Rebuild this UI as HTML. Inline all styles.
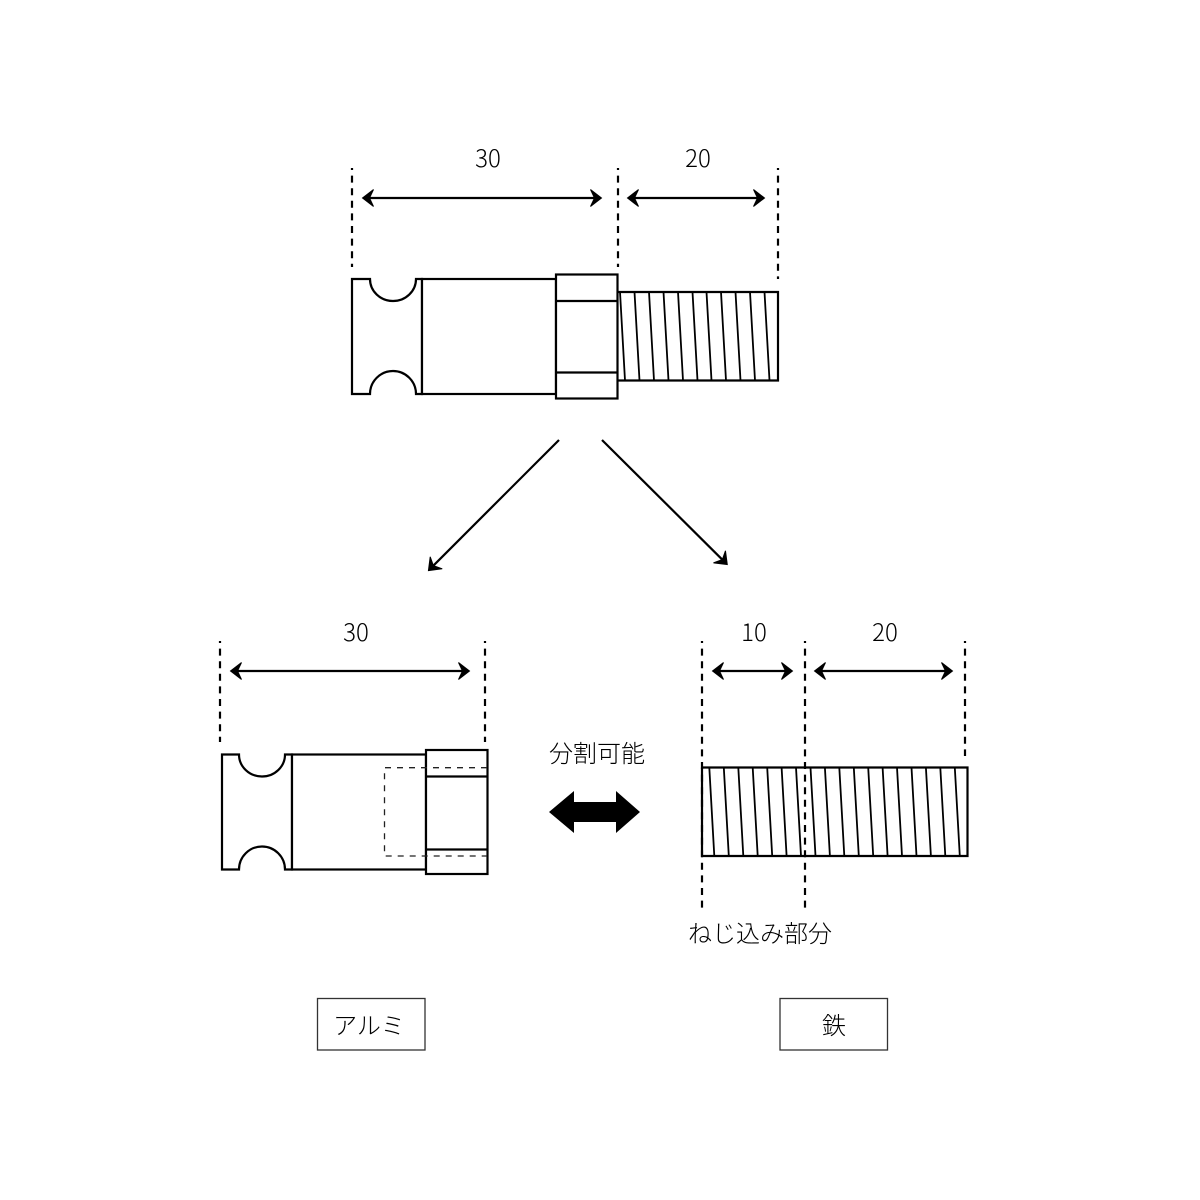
<!DOCTYPE html>
<html lang="ja">
<head>
<meta charset="utf-8">
<title>Diagram</title>
<style>
html,body{margin:0;padding:0;background:#fff}
svg{display:block}
text{font-family:"Noto Sans CJK JP","Liberation Sans",sans-serif;font-weight:300;fill:#000;text-anchor:middle}
.s{fill:#fff;stroke:#000;stroke-width:2.2}
.l{fill:none;stroke:#000;stroke-width:2.2}
.t{fill:none;stroke:#000;stroke-width:1.8}
.d{fill:none;stroke:#000;stroke-width:2.2;stroke-dasharray:7 5.6;stroke-dashoffset:5}
.f{fill:none;stroke:#222;stroke-width:1.3;stroke-dasharray:6 6}
.a{fill:none;stroke:#000;stroke-width:2.2;marker-start:url(#h);marker-end:url(#h)}
.g{fill:none;stroke:#000;stroke-width:2.2;marker-end:url(#h)}
</style>
</head>
<body>
<svg width="1200" height="1200" viewBox="0 0 1200 1200" xmlns="http://www.w3.org/2000/svg">
<defs>
<marker id="h" markerUnits="userSpaceOnUse" markerWidth="20" markerHeight="22" refX="-3" refY="0" viewBox="-14 -11 20 22" orient="auto-start-reverse">
<path d="M-0.500,0 L-11.500,-8.500 L-7.500,0 L-11.500,8.500Z" fill="#000" stroke="#000" stroke-width="1" stroke-linejoin="miter"/>
</marker>
</defs>
<rect width="1200" height="1200" fill="#fff"/>

<!-- top dashed guides -->
<path class="d" d="M352 168V267M618 168V267M778 168V279"/>
<path class="a" d="M365 198H599"/>
<path class="a" d="M630 198H762"/>
<text x="488" y="167" font-size="24">30</text>
<text x="698" y="167" font-size="24">20</text>

<!-- top part -->
<path class="s" d="M352 279H370A23 22 0 0 0 416 279H422V394H416A23 23 0 0 0 370 394H352Z"/>
<rect class="s" x="422" y="279" width="134" height="115"/>
<rect class="s" x="556" y="274.500" width="61.500" height="124"/>
<path class="l" d="M556 301H617.500M556 372.500H617.500"/>
<path class="l" d="M618 292H778V380.500H618"/>
<path class="t" d="M620 292L625 380.500M634.500 292L639.500 380.500M649 292L654 380.500M663.500 292L668.500 380.500M678 292L683 380.500M692.500 292L697.500 380.500M706.500 292L711.500 380.500M721 292L726 380.500M735.500 292L740.500 380.500M750 292L755 380.500M764.500 292L769.500 380.500"/>

<!-- diagonal arrows -->
<path class="g" d="M559 440L430.200 568.800"/>
<path class="g" d="M602 440L725.500 562.800"/>

<!-- lower-left guides -->
<path class="d" d="M220 641V742M485 641V742"/>
<path class="a" d="M233 671H467"/>
<text x="356" y="641" font-size="24">30</text>

<!-- lower-left part -->
<path class="s" d="M222 754.500H239A23 22 0 0 0 285 754.500H292V869.500H285A23 23 0 0 0 239 869.500H222Z"/>
<rect class="s" x="292" y="754.500" width="134" height="115"/>
<rect class="s" x="426" y="750" width="61.500" height="124"/>
<path class="l" d="M426 776.500H487.500M426 849.500H487.500"/>
<path class="f" d="M487 767.700H384.500V856H487"/>

<!-- lower-right thread -->
<path class="l" d="M702 767.500H967.500V856H702V767.500"/>
<path class="t" d="M709.300 767.500L714.300 856M723.800 767.500L728.800 856M738.300 767.500L743.300 856M752.700 767.500L757.700 856M767.200 767.500L772.200 856M781.600 767.500L786.600 856M796 767.500L801 856M810.500 767.500L815.500 856M824.900 767.500L829.900 856M839.300 767.500L844.300 856M853.800 767.500L858.800 856M868.200 767.500L873.200 856M882.600 767.500L887.600 856M897 767.500L902 856M911.500 767.500L916.500 856M925.900 767.500L930.900 856M940.300 767.500L945.300 856M954.800 767.500L959.800 856"/>

<!-- lower-right guides -->
<path class="d" d="M702 641V908M805 641V908M965 641V756"/>
<path class="a" d="M715 671H790"/>
<path class="a" d="M817 671H950"/>
<text x="754" y="641" font-size="24">10</text>
<text x="885" y="641" font-size="24">20</text>

<!-- block arrow -->
<polygon fill="#000" points="549,812 574,791 574,802 616,802 616,791 640,812 616,833 616,822 574,822 574,833"/>
<text x="597" y="762" font-size="24">分割可能</text>
<text x="760" y="942" font-size="24">ねじ込み部分</text>

<!-- labels -->
<rect x="317.500" y="998.500" width="107.500" height="51.500" fill="#fff" stroke="#333" stroke-width="1.300"/>
<rect x="780" y="998.500" width="107.500" height="51.500" fill="#fff" stroke="#333" stroke-width="1.300"/>
<text x="369" y="1034" font-size="24">アルミ</text>
<text x="834" y="1034" font-size="24">鉄</text>
</svg>
</body>
</html>
